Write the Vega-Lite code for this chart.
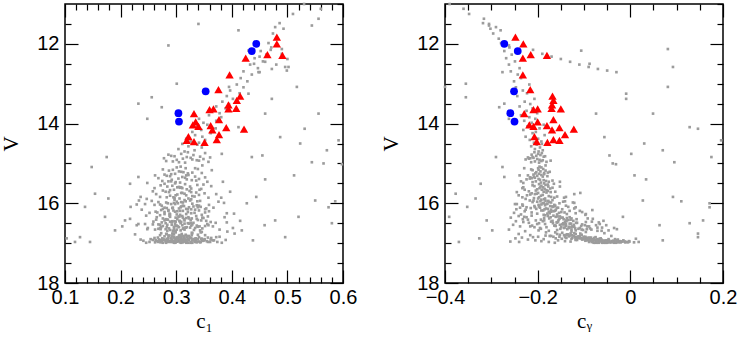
{
"$schema":"https://vega.github.io/schema/vega-lite/v6.json",
"padding":{"left":0,"top":1,"right":0,"bottom":0},
"autosize":{"type":"pad"},
"config":{
"view":{"stroke":"black","strokeWidth":1.5},
"concat":{"spacing":22},
"axis":{"labelFont":"Liberation Sans","labelFontSize":20,"labelColor":"black","titleFont":"Liberation Serif","titleFontSize":21,"titleFontWeight":"normal","titleColor":"black","domain":false,"grid":false,"tickColor":"black","tickWidth":1.2,"labelOverlap":false,"labelFlush":false}
},
"datasets":{
"gray":[
{"v":16.98,"c":0.312,"y":-0.041},{"v":16.95,"c":0.287,"y":-0.063},{"v":16.97,"c":0.334,"y":-0.022},{"v":16.92,"c":0.301,"y":-0.078},{"v":16.99,"c":0.276,"y":-0.035},{"v":16.94,"c":0.348,"y":-0.057},{"v":16.96,"c":0.295,"y":-0.012},{"v":16.91,"c":0.322,"y":-0.091},{"v":16.99,"c":0.309,"y":-0.068},{"v":16.93,"c":0.263,"y":-0.046},
{"v":16.97,"c":0.357,"y":-0.083},{"v":16.95,"c":0.318,"y":-0.029},{"v":16.90,"c":0.284,"y":-0.102},{"v":16.98,"c":0.299,"y":-0.005},{"v":16.96,"c":0.341,"y":-0.074},{"v":16.92,"c":0.271,"y":-0.118},{"v":16.99,"c":0.326,"y":-0.051},{"v":16.94,"c":0.305,"y":-0.037},{"v":16.97,"c":0.252,"y":-0.089},{"v":16.93,"c":0.368,"y":-0.015},
{"v":16.89,"c":0.315,"y":-0.066},{"v":16.96,"c":0.292,"y":-0.129},{"v":16.98,"c":0.337,"y":-0.044},{"v":16.91,"c":0.279,"y":-0.071},{"v":16.95,"c":0.303,"y":-0.003},{"v":16.99,"c":0.382,"y":-0.058},{"v":16.94,"c":0.297,"y":-0.097},{"v":16.90,"c":0.331,"y":-0.033},{"v":16.97,"c":0.268,"y":-0.061},{"v":16.92,"c":0.351,"y":-0.084},
{"v":16.88,"c":0.308,"y":-0.108},{"v":16.96,"c":0.289,"y":-0.019},{"v":16.93,"c":0.323,"y":-0.049},{"v":16.99,"c":0.246,"y":-0.076},{"v":16.95,"c":0.316,"y":-0.141},{"v":16.91,"c":0.362,"y":-0.027},{"v":16.97,"c":0.281,"y":-0.055},{"v":16.89,"c":0.299,"y":-0.088},{"v":16.98,"c":0.343,"y":-0.011},{"v":16.94,"c":0.274,"y":-0.067},
{"v":16.87,"c":0.327,"y":-0.095},{"v":16.96,"c":0.311,"y":-0.038},{"v":16.92,"c":0.258,"y":-0.115},{"v":16.99,"c":0.296,"y":-0.072},{"v":16.90,"c":0.339,"y":-0.047},{"v":16.95,"c":0.283,"y":-0.023},{"v":16.97,"c":0.374,"y":-0.081},{"v":16.93,"c":0.306,"y":-0.156},{"v":16.88,"c":0.291,"y":-0.064},{"v":16.98,"c":0.319,"y":0.008},
{"v":16.86,"c":0.301,"y":-0.112},{"v":16.94,"c":0.346,"y":-0.059},{"v":16.91,"c":0.277,"y":-0.086},{"v":16.99,"c":0.329,"y":-0.031},{"v":16.95,"c":0.265,"y":-0.073},{"v":16.89,"c":0.313,"y":-0.127},{"v":16.97,"c":0.294,"y":-0.045},{"v":16.92,"c":0.389,"y":-0.069},{"v":16.96,"c":0.284,"y":-0.002},{"v":16.90,"c":0.321,"y":-0.094},
{"v":16.85,"c":0.296,"y":-0.119},{"v":16.93,"c":0.336,"y":-0.053},{"v":16.98,"c":0.272,"y":-0.026},{"v":16.91,"c":0.309,"y":-0.104},{"v":16.95,"c":0.355,"y":-0.039},{"v":16.87,"c":0.286,"y":-0.138},{"v":16.99,"c":0.318,"y":-0.061},{"v":16.94,"c":0.241,"y":-0.084},{"v":16.90,"c":0.332,"y":-0.071},{"v":16.96,"c":0.302,"y":-0.017},
{"v":16.84,"c":0.314,"y":-0.101},{"v":16.92,"c":0.278,"y":-0.077},{"v":16.97,"c":0.344,"y":-0.048},{"v":16.88,"c":0.303,"y":-0.161},{"v":16.95,"c":0.289,"y":-0.034},{"v":16.93,"c":0.366,"y":-0.092},{"v":16.99,"c":0.282,"y":-0.054},{"v":16.86,"c":0.325,"y":-0.125},{"v":16.91,"c":0.269,"y":-0.063},{"v":16.98,"c":0.307,"y":-0.021},
{"v":16.83,"c":0.293,"y":-0.133},{"v":16.90,"c":0.338,"y":-0.082},{"v":16.96,"c":0.316,"y":-0.043},{"v":16.87,"c":0.261,"y":-0.107},{"v":16.94,"c":0.349,"y":-0.066},{"v":16.89,"c":0.300,"y":-0.148},{"v":16.97,"c":0.327,"y":-0.009},{"v":16.92,"c":0.285,"y":-0.096},{"v":16.85,"c":0.372,"y":-0.117},{"v":16.99,"c":0.298,"y":-0.079},
{"v":16.82,"c":0.319,"y":-0.122},{"v":16.88,"c":0.275,"y":-0.099},{"v":16.95,"c":0.333,"y":-0.058},{"v":16.80,"c":0.306,"y":-0.143},{"v":16.91,"c":0.292,"y":-0.087},{"v":16.86,"c":0.357,"y":-0.111},{"v":16.98,"c":0.262,"y":-0.049},{"v":16.84,"c":0.314,"y":-0.166},{"v":16.93,"c":0.281,"y":-0.073},{"v":16.89,"c":0.345,"y":-0.104},
{"v":16.81,"c":0.288,"y":-0.131},{"v":16.87,"c":0.324,"y":-0.093},{"v":16.94,"c":0.297,"y":-0.028},{"v":16.79,"c":0.339,"y":-0.152},{"v":16.90,"c":0.254,"y":-0.118},{"v":16.85,"c":0.305,"y":-0.075},{"v":16.97,"c":0.361,"y":-0.037},{"v":16.83,"c":0.279,"y":-0.109},{"v":16.92,"c":0.311,"y":-0.062},{"v":16.78,"c":0.296,"y":-0.137},
{"v":16.80,"c":0.352,"y":-0.126},{"v":16.86,"c":0.267,"y":-0.089},{"v":16.93,"c":0.329,"y":-0.071},{"v":16.77,"c":0.310,"y":-0.158},{"v":16.88,"c":0.285,"y":-0.114},{"v":16.84,"c":0.378,"y":-0.097},{"v":16.96,"c":0.301,"y":-0.052},{"v":16.82,"c":0.323,"y":-0.174},{"v":16.91,"c":0.236,"y":-0.083},{"v":16.76,"c":0.293,"y":-0.129},
{"v":16.79,"c":0.317,"y":-0.105},{"v":16.85,"c":0.341,"y":-0.141},{"v":16.75,"c":0.273,"y":-0.121},{"v":16.90,"c":0.304,"y":-0.092},{"v":16.81,"c":0.286,"y":-0.183},{"v":16.87,"c":0.363,"y":-0.078},{"v":16.74,"c":0.328,"y":-0.147},{"v":16.95,"c":0.291,"y":-0.066},{"v":16.83,"c":0.308,"y":-0.112},{"v":16.78,"c":0.226,"y":-0.135},
{"v":16.73,"c":0.299,"y":-0.162},{"v":16.89,"c":0.335,"y":-0.101},{"v":16.77,"c":0.282,"y":-0.118},{"v":16.84,"c":0.319,"y":-0.153},{"v":16.72,"c":0.346,"y":-0.096},{"v":16.80,"c":0.271,"y":-0.139},{"v":16.86,"c":0.302,"y":-0.085},{"v":16.71,"c":0.392,"y":-0.127},{"v":16.82,"c":0.313,"y":-0.171},{"v":16.76,"c":0.295,"y":-0.108},
{"v":16.68,"c":0.308,"y":-0.118},{"v":16.65,"c":0.281,"y":-0.094},{"v":16.62,"c":0.334,"y":-0.132},{"v":16.69,"c":0.296,"y":-0.071},{"v":16.60,"c":0.319,"y":-0.149},{"v":16.66,"c":0.262,"y":-0.105},{"v":16.63,"c":0.347,"y":-0.087},{"v":16.58,"c":0.303,"y":-0.126},{"v":16.67,"c":0.289,"y":-0.158},{"v":16.61,"c":0.325,"y":-0.061},
{"v":16.57,"c":0.276,"y":-0.139},{"v":16.64,"c":0.312,"y":-0.112},{"v":16.55,"c":0.358,"y":-0.098},{"v":16.69,"c":0.294,"y":-0.176},{"v":16.59,"c":0.339,"y":-0.121},{"v":16.53,"c":0.268,"y":-0.143},{"v":16.66,"c":0.301,"y":-0.084},{"v":16.56,"c":0.327,"y":-0.164},{"v":16.62,"c":0.249,"y":-0.109},{"v":16.51,"c":0.315,"y":-0.131},
{"v":16.68,"c":0.343,"y":-0.047},{"v":16.54,"c":0.284,"y":-0.152},{"v":16.60,"c":0.305,"y":-0.127},{"v":16.49,"c":0.331,"y":-0.115},{"v":16.65,"c":0.272,"y":-0.136},{"v":16.52,"c":0.298,"y":-0.184},{"v":16.58,"c":0.366,"y":-0.093},{"v":16.47,"c":0.309,"y":-0.141},{"v":16.63,"c":0.287,"y":-0.119},{"v":16.50,"c":0.321,"y":-0.167},
{"v":16.45,"c":0.293,"y":-0.138},{"v":16.57,"c":0.352,"y":-0.106},{"v":16.48,"c":0.274,"y":-0.159},{"v":16.61,"c":0.317,"y":-0.142},{"v":16.44,"c":0.306,"y":-0.123},{"v":16.53,"c":0.258,"y":-0.147},{"v":16.67,"c":0.332,"y":-0.102},{"v":16.46,"c":0.289,"y":-0.171},{"v":16.55,"c":0.311,"y":-0.074},{"v":16.42,"c":0.339,"y":-0.155},
{"v":16.59,"c":0.296,"y":-0.133},{"v":16.43,"c":0.279,"y":-0.186},{"v":16.51,"c":0.323,"y":-0.128},{"v":16.64,"c":0.268,"y":-0.151},{"v":16.40,"c":0.314,"y":-0.144},{"v":16.49,"c":0.371,"y":-0.117},{"v":16.56,"c":0.301,"y":-0.162},{"v":16.41,"c":0.285,"y":-0.129},{"v":16.38,"c":0.328,"y":-0.175},{"v":16.52,"c":0.244,"y":-0.139},
{"v":16.47,"c":0.308,"y":-0.096},{"v":16.39,"c":0.337,"y":-0.153},{"v":16.60,"c":0.283,"y":-0.181},{"v":16.36,"c":0.299,"y":-0.146},{"v":16.44,"c":0.354,"y":-0.168},{"v":16.54,"c":0.271,"y":-0.122},{"v":16.37,"c":0.318,"y":-0.137},{"v":16.48,"c":0.292,"y":-0.158},{"v":16.35,"c":0.265,"y":-0.172},{"v":16.58,"c":0.342,"y":-0.089},
{"v":16.34,"c":0.304,"y":-0.161},{"v":16.42,"c":0.326,"y":-0.134},{"v":16.50,"c":0.281,"y":-0.145},{"v":16.33,"c":0.357,"y":-0.152},{"v":16.45,"c":0.297,"y":-0.189},{"v":16.38,"c":0.276,"y":-0.127},{"v":16.62,"c":0.313,"y":-0.143},{"v":16.32,"c":0.336,"y":-0.178},{"v":16.46,"c":0.259,"y":-0.156},{"v":16.40,"c":0.302,"y":-0.116},
{"v":16.31,"c":0.288,"y":-0.166},{"v":16.53,"c":0.329,"y":-0.104},{"v":16.36,"c":0.312,"y":-0.149},{"v":16.43,"c":0.345,"y":-0.139},{"v":16.30,"c":0.271,"y":-0.184},{"v":16.57,"c":0.299,"y":-0.161},{"v":16.35,"c":0.322,"y":-0.131},{"v":16.41,"c":0.283,"y":-0.193},{"v":16.66,"c":0.378,"y":-0.127},{"v":16.33,"c":0.306,"y":-0.157},
{"v":16.55,"c":0.229,"y":-0.052},{"v":16.62,"c":0.402,"y":-0.035},{"v":16.48,"c":0.391,"y":-0.068},{"v":16.39,"c":0.217,"y":-0.081},{"v":16.65,"c":0.248,"y":-0.029},{"v":16.44,"c":0.415,"y":-0.058},{"v":16.58,"c":0.203,"y":-0.216},{"v":16.35,"c":0.387,"y":-0.224},{"v":16.52,"c":0.232,"y":-0.201},{"v":16.68,"c":0.418,"y":-0.198},
{"v":16.31,"c":0.246,"y":-0.213},{"v":16.47,"c":0.362,"y":-0.231},{"v":16.60,"c":0.273,"y":-0.207},{"v":16.37,"c":0.349,"y":-0.186},{"v":16.43,"c":0.315,"y":-0.204},{"v":16.64,"c":0.296,"y":-0.193},{"v":16.34,"c":0.289,"y":-0.229},{"v":16.56,"c":0.337,"y":-0.212},{"v":16.41,"c":0.264,"y":-0.221},{"v":16.50,"c":0.308,"y":-0.197},
{"v":16.28,"c":0.301,"y":-0.158},{"v":16.25,"c":0.327,"y":-0.174},{"v":16.22,"c":0.279,"y":-0.149},{"v":16.29,"c":0.346,"y":-0.187},{"v":16.19,"c":0.312,"y":-0.163},{"v":16.26,"c":0.288,"y":-0.201},{"v":16.16,"c":0.334,"y":-0.171},{"v":16.23,"c":0.266,"y":-0.142},{"v":16.13,"c":0.305,"y":-0.182},{"v":16.20,"c":0.359,"y":-0.166},
{"v":16.11,"c":0.294,"y":-0.195},{"v":16.27,"c":0.318,"y":-0.137},{"v":16.14,"c":0.276,"y":-0.178},{"v":16.18,"c":0.341,"y":-0.188},{"v":16.08,"c":0.309,"y":-0.169},{"v":16.24,"c":0.252,"y":-0.154},{"v":16.10,"c":0.323,"y":-0.206},{"v":16.17,"c":0.286,"y":-0.161},{"v":16.05,"c":0.337,"y":-0.184},{"v":16.21,"c":0.298,"y":-0.176},
{"v":16.03,"c":0.271,"y":-0.192},{"v":16.15,"c":0.352,"y":-0.147},{"v":16.07,"c":0.314,"y":-0.173},{"v":16.12,"c":0.283,"y":-0.215},{"v":16.01,"c":0.329,"y":-0.179},{"v":16.19,"c":0.307,"y":-0.131},{"v":16.04,"c":0.261,"y":-0.198},{"v":16.09,"c":0.344,"y":-0.166},{"v":15.99,"c":0.296,"y":-0.187},{"v":16.14,"c":0.318,"y":-0.203},
{"v":15.97,"c":0.309,"y":-0.175},{"v":16.06,"c":0.274,"y":-0.162},{"v":15.95,"c":0.338,"y":-0.194},{"v":16.02,"c":0.291,"y":-0.181},{"v":15.93,"c":0.325,"y":-0.209},{"v":16.11,"c":0.367,"y":-0.156},{"v":15.98,"c":0.282,"y":-0.171},{"v":16.00,"c":0.303,"y":-0.189},{"v":15.94,"c":0.256,"y":-0.183},{"v":16.08,"c":0.331,"y":-0.197},
{"v":15.92,"c":0.315,"y":-0.168},{"v":16.16,"c":0.238,"y":-0.226},{"v":15.96,"c":0.376,"y":-0.145},{"v":16.25,"c":0.391,"y":-0.118},{"v":16.03,"c":0.229,"y":-0.233},{"v":15.91,"c":0.297,"y":-0.192},{"v":16.22,"c":0.321,"y":-0.104},{"v":16.13,"c":0.354,"y":-0.121},{"v":15.97,"c":0.268,"y":-0.211},{"v":16.27,"c":0.279,"y":-0.096},
{"v":16.06,"c":0.312,"y":-0.139},{"v":15.94,"c":0.343,"y":-0.177},{"v":16.18,"c":0.295,"y":-0.192},{"v":16.00,"c":0.285,"y":-0.153},{"v":16.10,"c":0.308,"y":-0.224},{"v":15.90,"c":0.327,"y":-0.186},{"v":16.21,"c":0.263,"y":-0.171},{"v":16.04,"c":0.359,"y":-0.164},{"v":15.96,"c":0.301,"y":-0.201},{"v":16.15,"c":0.327,"y":-0.185},
{"v":16.09,"c":0.218,"y":-0.134},{"v":16.26,"c":0.404,"y":-0.179},{"v":15.99,"c":0.386,"y":-0.121},{"v":16.02,"c":0.244,"y":-0.245},{"v":16.17,"c":0.273,"y":-0.082},{"v":15.93,"c":0.233,"y":-0.217},{"v":16.23,"c":0.352,"y":-0.213},{"v":16.12,"c":0.293,"y":-0.159},{"v":15.95,"c":0.317,"y":-0.141},{"v":16.07,"c":0.339,"y":-0.207},
{"v":15.88,"c":0.306,"y":-0.184},{"v":15.85,"c":0.283,"y":-0.197},{"v":15.82,"c":0.329,"y":-0.176},{"v":15.87,"c":0.297,"y":-0.208},{"v":15.79,"c":0.341,"y":-0.189},{"v":15.84,"c":0.271,"y":-0.171},{"v":15.76,"c":0.315,"y":-0.202},{"v":15.81,"c":0.289,"y":-0.193},{"v":15.73,"c":0.336,"y":-0.181},{"v":15.78,"c":0.302,"y":-0.216},
{"v":15.71,"c":0.281,"y":-0.187},{"v":15.86,"c":0.358,"y":-0.164},{"v":15.74,"c":0.309,"y":-0.199},{"v":15.69,"c":0.324,"y":-0.178},{"v":15.77,"c":0.264,"y":-0.206},{"v":15.66,"c":0.296,"y":-0.191},{"v":15.80,"c":0.318,"y":-0.223},{"v":15.64,"c":0.345,"y":-0.185},{"v":15.72,"c":0.287,"y":-0.172},{"v":15.62,"c":0.311,"y":-0.196},
{"v":15.68,"c":0.276,"y":-0.204},{"v":15.83,"c":0.333,"y":-0.158},{"v":15.60,"c":0.302,"y":-0.188},{"v":15.75,"c":0.351,"y":-0.213},{"v":15.58,"c":0.284,"y":-0.177},{"v":15.65,"c":0.319,"y":-0.201},{"v":15.56,"c":0.293,"y":-0.192},{"v":15.70,"c":0.258,"y":-0.219},{"v":15.54,"c":0.338,"y":-0.183},{"v":15.61,"c":0.307,"y":-0.168},
{"v":15.52,"c":0.316,"y":-0.197},{"v":15.67,"c":0.289,"y":-0.181},{"v":15.57,"c":0.363,"y":-0.207},{"v":15.89,"c":0.247,"y":-0.226},{"v":15.50,"c":0.298,"y":-0.186},{"v":15.63,"c":0.327,"y":-0.173},{"v":15.55,"c":0.272,"y":-0.211},{"v":15.86,"c":0.381,"y":-0.143},{"v":15.59,"c":0.305,"y":-0.194},{"v":15.53,"c":0.349,"y":-0.178},
{"v":15.84,"c":0.236,"y":-0.139},{"v":15.77,"c":0.372,"y":-0.121},{"v":15.62,"c":0.261,"y":-0.233},{"v":15.71,"c":0.397,"y":-0.162},{"v":15.58,"c":0.325,"y":-0.152},{"v":15.80,"c":0.299,"y":-0.241},{"v":15.51,"c":0.279,"y":-0.165},{"v":15.66,"c":0.342,"y":-0.228},{"v":15.74,"c":0.311,"y":-0.108},{"v":15.88,"c":0.322,"y":-0.199},
{"v":15.48,"c":0.307,"y":-0.193},{"v":15.45,"c":0.286,"y":-0.204},{"v":15.42,"c":0.328,"y":-0.187},{"v":15.47,"c":0.299,"y":-0.211},{"v":15.39,"c":0.341,"y":-0.198},{"v":15.44,"c":0.275,"y":-0.182},{"v":15.36,"c":0.316,"y":-0.206},{"v":15.41,"c":0.292,"y":-0.195},{"v":15.33,"c":0.334,"y":-0.189},{"v":15.38,"c":0.304,"y":-0.217},
{"v":15.31,"c":0.283,"y":-0.201},{"v":15.46,"c":0.356,"y":-0.176},{"v":15.34,"c":0.311,"y":-0.208},{"v":15.29,"c":0.322,"y":-0.192},{"v":15.37,"c":0.268,"y":-0.213},{"v":15.26,"c":0.298,"y":-0.197},{"v":15.40,"c":0.319,"y":-0.224},{"v":15.24,"c":0.346,"y":-0.186},{"v":15.32,"c":0.289,"y":-0.179},{"v":15.22,"c":0.313,"y":-0.203},
{"v":15.28,"c":0.279,"y":-0.209},{"v":15.43,"c":0.336,"y":-0.168},{"v":15.20,"c":0.305,"y":-0.194},{"v":15.35,"c":0.352,"y":-0.216},{"v":15.18,"c":0.287,"y":-0.183},{"v":15.25,"c":0.321,"y":-0.205},{"v":15.16,"c":0.294,"y":-0.198},{"v":15.30,"c":0.262,"y":-0.221},{"v":15.14,"c":0.339,"y":-0.188},{"v":15.21,"c":0.309,"y":-0.174},
{"v":15.12,"c":0.317,"y":-0.199},{"v":15.27,"c":0.291,"y":-0.186},{"v":15.17,"c":0.364,"y":-0.211},{"v":15.49,"c":0.248,"y":-0.231},{"v":15.10,"c":0.301,"y":-0.192},{"v":15.23,"c":0.329,"y":-0.178},{"v":15.15,"c":0.276,"y":-0.214},{"v":15.46,"c":0.384,"y":-0.152},{"v":15.08,"c":0.308,"y":-0.196},{"v":15.05,"c":0.347,"y":-0.183},
{"v":14.98,"c":0.316,"y":-0.197},{"v":14.95,"c":0.294,"y":-0.206},{"v":14.92,"c":0.337,"y":-0.189},{"v":14.97,"c":0.305,"y":-0.214},{"v":14.89,"c":0.349,"y":-0.201},{"v":14.94,"c":0.282,"y":-0.192},{"v":14.86,"c":0.326,"y":-0.209},{"v":14.91,"c":0.301,"y":-0.196},{"v":14.83,"c":0.343,"y":-0.187},{"v":14.88,"c":0.312,"y":-0.219},
{"v":14.81,"c":0.291,"y":-0.203},{"v":14.96,"c":0.358,"y":-0.181},{"v":14.84,"c":0.319,"y":-0.211},{"v":14.79,"c":0.331,"y":-0.194},{"v":14.87,"c":0.278,"y":-0.216},{"v":14.76,"c":0.309,"y":-0.199},{"v":14.90,"c":0.329,"y":-0.226},{"v":14.74,"c":0.352,"y":-0.191},{"v":14.82,"c":0.297,"y":-0.184},{"v":14.72,"c":0.321,"y":-0.207},
{"v":14.78,"c":0.286,"y":-0.213},{"v":14.93,"c":0.341,"y":-0.172},{"v":14.70,"c":0.315,"y":-0.198},{"v":14.85,"c":0.361,"y":-0.221},{"v":14.67,"c":0.333,"y":-0.189},{"v":14.64,"c":0.304,"y":-0.206},{"v":14.60,"c":0.346,"y":-0.195},{"v":14.57,"c":0.322,"y":-0.214},{"v":14.53,"c":0.338,"y":-0.202},{"v":14.51,"c":0.311,"y":-0.191},
{"v":14.48,"c":0.341,"y":-0.208},{"v":14.45,"c":0.326,"y":-0.192},{"v":14.41,"c":0.352,"y":-0.217},{"v":14.38,"c":0.318,"y":-0.199},{"v":14.33,"c":0.347,"y":-0.226},{"v":14.29,"c":0.334,"y":-0.185},{"v":14.24,"c":0.362,"y":-0.211},{"v":14.21,"c":0.329,"y":-0.204},{"v":14.16,"c":0.345,"y":-0.231},{"v":14.12,"c":0.371,"y":-0.196},
{"v":14.07,"c":0.338,"y":-0.222},{"v":14.03,"c":0.356,"y":-0.187},{"v":13.98,"c":0.349,"y":-0.213},{"v":13.93,"c":0.372,"y":-0.229},{"v":13.88,"c":0.341,"y":-0.205},{"v":13.84,"c":0.381,"y":-0.218},{"v":13.79,"c":0.359,"y":-0.236},{"v":13.74,"c":0.378,"y":-0.201},{"v":13.68,"c":0.366,"y":-0.224},{"v":13.62,"c":0.389,"y":-0.211},
{"v":13.57,"c":0.372,"y":-0.239},{"v":13.51,"c":0.395,"y":-0.216},{"v":13.45,"c":0.383,"y":-0.228},{"v":13.38,"c":0.402,"y":-0.207},{"v":13.31,"c":0.391,"y":-0.244},{"v":13.24,"c":0.414,"y":-0.223},{"v":13.17,"c":0.397,"y":-0.232},{"v":13.09,"c":0.421,"y":-0.247},{"v":13.02,"c":0.409,"y":-0.218},{"v":12.94,"c":0.428,"y":-0.251},
{"v":12.86,"c":0.416,"y":-0.236},{"v":12.77,"c":0.436,"y":-0.243},{"v":12.69,"c":0.421,"y":-0.258},{"v":12.61,"c":0.447,"y":-0.239},{"v":12.52,"c":0.433,"y":-0.262},{"v":12.44,"c":0.456,"y":-0.249},{"v":12.36,"c":0.441,"y":-0.268},{"v":12.27,"c":0.462,"y":-0.256},{"v":12.18,"c":0.452,"y":-0.272},{"v":12.09,"c":0.471,"y":-0.261},
{"v":11.98,"c":0.466,"y":-0.279},{"v":11.87,"c":0.482,"y":-0.284},{"v":11.74,"c":0.474,"y":-0.296},{"v":11.62,"c":0.493,"y":-0.302},{"v":11.48,"c":0.486,"y":-0.318},
{"v":14.42,"c":0.592,"y":0.196},{"v":14.67,"c":0.571,"y":0.07},{"v":14.97,"c":0.544,"y":0.095},{"v":15.00,"c":0.565,"y":-0.038},{"v":15.02,"c":0.598,"y":-0.031},{"v":14.50,"c":0.523,"y":0.03},{"v":15.40,"c":0.460,"y":0.034},{"v":14.84,"c":0.436,"y":0.175},{"v":15.93,"c":0.550,"y":0.027},{"v":15.95,"c":0.586,"y":0.11},
{"v":16.43,"c":0.478,"y":0.157},{"v":16.85,"c":0.496,"y":0.146},{"v":16.34,"c":0.520,"y":-0.016},{"v":16.50,"c":0.580,"y":0.128},{"v":13.75,"c":0.460,"y":0.049},{"v":13.38,"c":0.472,"y":-0.009},{"v":13.75,"c":0.556,"y":-0.074},{"v":13.08,"c":0.517,"y":0.081},{"v":16.10,"c":0.574,"y":0.171},{"v":14.09,"c":0.412,"y":0.128},
{"v":14.13,"c":0.531,"y":0.146},{"v":14.34,"c":0.487,"y":-0.056},{"v":14.76,"c":0.382,"y":0.002},{"v":14.80,"c":0.455,"y":-0.045},{"v":15.30,"c":0.512,"y":0.009},{"v":15.84,"c":0.444,"y":0.092},{"v":16.00,"c":0.427,"y":0.171},{"v":16.55,"c":0.459,"y":0.063},{"v":16.93,"c":0.438,"y":0.07},{"v":16.76,"c":0.405,"y":0.146},
{"v":16.97,"c":0.118,"y":-0.37},{"v":16.88,"c":0.103,"y":-0.326},{"v":16.09,"c":0.136,"y":-0.352},{"v":15.09,"c":0.148,"y":-0.276},{"v":14.84,"c":0.175,"y":-0.29},{"v":15.76,"c":0.154,"y":-0.377},{"v":16.34,"c":0.172,"y":-0.391},{"v":15.88,"c":0.178,"y":-0.334},{"v":16.68,"c":0.190,"y":-0.298},{"v":15.51,"c":0.217,"y":-0.323},
{"v":16.43,"c":0.208,"y":-0.31},{"v":13.50,"c":0.232,"y":-0.272},{"v":12.04,"c":0.286,"y":-0.262},{"v":13.00,"c":0.301,"y":-0.355},{"v":11.50,"c":0.340,"y":-0.305},{"v":16.97,"c":0.145,"y":-0.24},{"v":16.85,"c":0.127,"y":-0.21},{"v":13.34,"c":0.256,"y":-0.355},{"v":13.59,"c":0.274,"y":-0.283},{"v":13.88,"c":0.248,"y":-0.262},
{"v":15.34,"c":0.232,"y":-0.272},{"v":13.08,"c":0.395,"y":-0.4},{"v":11.00,"c":0.53,"y":-0.39},{"v":11.12,"c":0.56,"y":-0.36},{"v":11.25,"c":0.51,"y":-0.348},{"v":11.37,"c":0.556,"y":-0.316},{"v":11.54,"c":0.544,"y":-0.305},{"v":11.58,"c":0.478,"y":-0.29},{"v":11.66,"c":0.412,"y":-0.28},{"v":12.71,"c":0.45,"y":-0.276},
{"v":12.15,"c":0.47,"y":-0.21},{"v":12.25,"c":0.49,"y":-0.19},{"v":12.32,"c":0.45,"y":-0.17},{"v":12.38,"c":0.5,"y":-0.15},{"v":12.45,"c":0.46,"y":-0.13},{"v":12.52,"c":0.48,"y":-0.11},{"v":12.58,"c":0.496,"y":-0.09},{"v":12.63,"c":0.472,"y":-0.07},{"v":12.67,"c":0.499,"y":-0.05},{"v":12.71,"c":0.448,"y":-0.03},
{"v":12.17,"c":0.43,"y":-0.106},{"v":12.50,"c":0.44,"y":-0.088},{"v":12.13,"c":0.49,"y":0.081},{"v":12.58,"c":0.502,"y":0.092},{"v":13.25,"c":0.43,"y":-0.009},
{"v":16.95,"c":0.301,"y":-0.192},{"v":16.91,"c":0.318,"y":-0.221},{"v":16.97,"c":0.287,"y":-0.176},{"v":16.88,"c":0.335,"y":-0.248},{"v":16.93,"c":0.274,"y":-0.205},{"v":16.99,"c":0.322,"y":-0.163},{"v":16.86,"c":0.296,"y":-0.234},{"v":16.90,"c":0.351,"y":-0.187},{"v":16.96,"c":0.268,"y":-0.259},{"v":16.84,"c":0.309,"y":-0.199},
{"v":16.80,"c":0.328,"y":-0.216},{"v":16.77,"c":0.283,"y":-0.241},{"v":16.73,"c":0.344,"y":-0.182},{"v":16.70,"c":0.299,"y":-0.227},{"v":16.66,"c":0.315,"y":-0.262},{"v":16.62,"c":0.271,"y":-0.195},{"v":16.58,"c":0.338,"y":-0.238},{"v":16.54,"c":0.292,"y":-0.253},{"v":16.49,"c":0.326,"y":-0.219},{"v":16.45,"c":0.306,"y":-0.247},
{"v":16.40,"c":0.281,"y":-0.232},{"v":16.36,"c":0.347,"y":-0.258},{"v":16.32,"c":0.311,"y":-0.241},{"v":16.28,"c":0.289,"y":-0.236},{"v":16.24,"c":0.333,"y":-0.251},{"v":16.20,"c":0.302,"y":-0.228},{"v":16.15,"c":0.321,"y":-0.246},{"v":16.11,"c":0.279,"y":-0.238},{"v":16.06,"c":0.341,"y":-0.232},{"v":16.02,"c":0.298,"y":-0.249},
{"v":16.93,"c":0.313,"y":-0.029},{"v":16.89,"c":0.346,"y":0.012},{"v":16.97,"c":0.291,"y":0.018},{"v":16.82,"c":0.305,"y":-0.041},{"v":16.75,"c":0.329,"y":-0.056},{"v":16.69,"c":0.284,"y":-0.062},{"v":16.61,"c":0.317,"y":-0.071},{"v":16.52,"c":0.356,"y":-0.066},{"v":16.46,"c":0.299,"y":-0.083},{"v":16.38,"c":0.323,"y":-0.092},
{"v":16.29,"c":0.307,"y":-0.097},{"v":16.19,"c":0.286,"y":-0.109},{"v":16.10,"c":0.339,"y":-0.118},{"v":15.98,"c":0.312,"y":-0.124},{"v":15.85,"c":0.295,"y":-0.233},{"v":15.72,"c":0.327,"y":-0.245},{"v":15.60,"c":0.309,"y":-0.231},{"v":15.45,"c":0.291,"y":-0.236},{"v":15.30,"c":0.318,"y":-0.239},{"v":15.12,"c":0.334,"y":-0.229}
],
"red":[
{"v":11.83,"c":0.481,"y":-0.248},{"v":12.00,"c":0.481,"y":-0.231},{"v":12.27,"c":0.464,"y":-0.215},{"v":12.29,"c":0.491,"y":-0.180},{"v":12.36,"c":0.425,"y":-0.232},{"v":12.78,"c":0.396,"y":-0.232},{"v":13.15,"c":0.376,"y":-0.216},{"v":13.31,"c":0.415,"y":-0.168},{"v":13.42,"c":0.409,"y":-0.166},{"v":13.53,"c":0.394,"y":-0.169},
{"v":13.62,"c":0.408,"y":-0.170},{"v":13.63,"c":0.394,"y":-0.150},{"v":13.63,"c":0.367,"y":-0.200},{"v":13.65,"c":0.360,"y":-0.209},{"v":13.75,"c":0.332,"y":-0.229},{"v":13.90,"c":0.377,"y":-0.166},{"v":13.96,"c":0.335,"y":-0.200},{"v":14.03,"c":0.330,"y":-0.218},{"v":14.05,"c":0.362,"y":-0.180},{"v":14.07,"c":0.340,"y":-0.209},
{"v":14.10,"c":0.390,"y":-0.153},{"v":14.14,"c":0.422,"y":-0.122},{"v":14.16,"c":0.365,"y":-0.169},{"v":14.28,"c":0.377,"y":-0.141},{"v":14.33,"c":0.322,"y":-0.207},{"v":14.40,"c":0.373,"y":-0.166},{"v":14.42,"c":0.319,"y":-0.153},{"v":14.45,"c":0.332,"y":-0.202},{"v":14.47,"c":0.351,"y":-0.179}
],
"blue":[
{"v":12.00,"c":0.444,"y":-0.272},{"v":12.18,"c":0.436,"y":-0.243},{"v":13.19,"c":0.353,"y":-0.251},{"v":13.74,"c":0.304,"y":-0.259},{"v":13.95,"c":0.305,"y":-0.250}
]
},
"hconcat":[
{
"width":278,"height":279,
"resolve":{"axis":{"x":"independent","y":"independent"}},
"layer":[
{"data":{"name":"gray"},"mark":{"type":"point","shape":"square","filled":true,"size":7,"color":"#9c9c9c","opacity":1},
"encoding":{
"x":{"field":"c","type":"quantitative","scale":{"domain":[0.1,0.6],"nice":false,"zero":false},
"axis":{"orient":"bottom","title":"c₁","values":[0.1,0.12,0.14,0.16,0.18,0.2,0.22,0.24,0.26,0.28,0.3,0.32,0.34,0.36,0.38,0.4,0.42,0.44,0.46,0.48,0.5,0.52,0.54,0.56,0.58,0.6],"format":".1~f","labelExpr":"abs(datum.value*10-round(datum.value*10))<0.001 ? datum.label : ''","tickSize":{"condition":{"test":"abs(datum.value*10-round(datum.value*10))<0.001","value":-13},"value":-6},"labelPadding":17,"titlePadding":-4}},
"y":{"field":"v","type":"quantitative","scale":{"domain":[11,18],"reverse":true,"nice":false,"zero":false},
"axis":{"orient":"left","title":"V","values":[11.5,12,12.5,13,13.5,14,14.5,15,15.5,16,16.5,17,17.5,18],"labelExpr":"(datum.value==12||datum.value==14||datum.value==16||datum.value==18) ? ''+datum.value : ''","tickSize":{"condition":{"test":"datum.value%2==0","value":-13},"value":-6},"labelPadding":19,"titlePadding":15}}}},
{"data":{"name":"red"},"mark":{"type":"point","shape":"triangle-up","filled":true,"size":70,"color":"#ff0000","opacity":1},
"encoding":{
"x":{"field":"c","type":"quantitative","axis":{"orient":"top","title":null,"labels":false,"values":[0.1,0.12,0.14,0.16,0.18,0.2,0.22,0.24,0.26,0.28,0.3,0.32,0.34,0.36,0.38,0.4,0.42,0.44,0.46,0.48,0.5,0.52,0.54,0.56,0.58,0.6],"tickSize":{"condition":{"test":"abs(datum.value*10-round(datum.value*10))<0.001","value":-13},"value":-6}}},
"y":{"field":"v","type":"quantitative","axis":{"orient":"right","title":null,"labels":false,"values":[11,11.5,12,12.5,13,13.5,14,14.5,15,15.5,16,16.5,17,17.5,18],"tickSize":{"condition":{"test":"datum.value%2==0","value":-13},"value":-6}}}}},
{"data":{"name":"blue"},"mark":{"type":"circle","size":60,"color":"#0000ff","opacity":1},
"encoding":{"x":{"field":"c","type":"quantitative","axis":null},"y":{"field":"v","type":"quantitative","axis":null}}}
]
},
{
"width":278,"height":279,
"resolve":{"axis":{"x":"independent","y":"independent"}},
"layer":[
{"data":{"name":"gray"},"mark":{"type":"point","shape":"square","filled":true,"size":7,"color":"#9c9c9c","opacity":1},
"encoding":{
"x":{"field":"y","type":"quantitative","scale":{"domain":[-0.4,0.2],"nice":false,"zero":false},
"axis":{"orient":"bottom","title":"cᵧ","values":[-0.4,-0.35,-0.3,-0.25,-0.2,-0.15,-0.1,-0.05,0,0.05,0.1,0.15,0.2],"format":".1~f","labelExpr":"abs(datum.value*5-round(datum.value*5))<0.001 ? datum.label : ''","tickSize":{"condition":{"test":"abs(datum.value*5-round(datum.value*5))<0.001","value":-13},"value":-6},"labelPadding":17,"titlePadding":-4}},
"y":{"field":"v","type":"quantitative","scale":{"domain":[11,18],"reverse":true,"nice":false,"zero":false},
"axis":{"orient":"left","title":"V","values":[11.5,12,12.5,13,13.5,14,14.5,15,15.5,16,16.5,17,17.5,18],"labelExpr":"(datum.value==12||datum.value==14||datum.value==16||datum.value==18) ? ''+datum.value : ''","tickSize":{"condition":{"test":"datum.value%2==0","value":-13},"value":-6},"labelPadding":19,"titlePadding":15}}}},
{"data":{"name":"red"},"mark":{"type":"point","shape":"triangle-up","filled":true,"size":70,"color":"#ff0000","opacity":1},
"encoding":{
"x":{"field":"y","type":"quantitative","axis":{"orient":"top","title":null,"labels":false,"values":[-0.4,-0.35,-0.3,-0.25,-0.2,-0.15,-0.1,-0.05,0,0.05,0.1,0.15,0.2],"tickSize":{"condition":{"test":"abs(datum.value*5-round(datum.value*5))<0.001","value":-13},"value":-6}}},
"y":{"field":"v","type":"quantitative","axis":{"orient":"right","title":null,"labels":false,"values":[11,11.5,12,12.5,13,13.5,14,14.5,15,15.5,16,16.5,17,17.5,18],"tickSize":{"condition":{"test":"datum.value%2==0","value":-13},"value":-6}}}}},
{"data":{"name":"blue"},"mark":{"type":"circle","size":60,"color":"#0000ff","opacity":1},
"encoding":{"x":{"field":"y","type":"quantitative","axis":null},"y":{"field":"v","type":"quantitative","axis":null}}}
]
}
]
}
